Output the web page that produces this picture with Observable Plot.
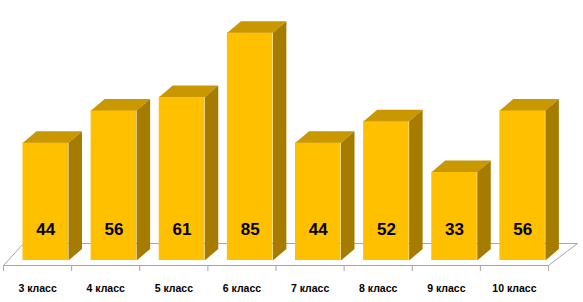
<!DOCTYPE html>
<html>
<head>
<meta charset="utf-8">
<script src="https://cdn.jsdelivr.net/npm/d3@7"></script>
<script src="https://cdn.jsdelivr.net/npm/@observablehq/plot@0.6"></script>
<style>
  html, body { margin: 0; padding: 0; background: #fff; }
</style>
</head>
<body>
<div id="chart"></div>
<script>
// Data
const categories = ["3 класс", "4 класс", "5 класс", "6 класс", "7 класс", "8 класс", "9 класс", "10 класс"];
const values = [44, 56, 61, 85, 44, 52, 33, 56];

const rows = categories.map((c, i) => ({i, c, v: values[i]}));

// scale geometry (pixels per unit), used to convert pixel offsets of the 3D look into data units
const W = 583, H = 302;
const xRange = [3, 548], yRange = [260, 32.3];
const yMax = 85;
const pxPerX = (xRange[1] - xRange[0]) / categories.length;
const pxPerY = (yRange[0] - yRange[1]) / yMax;
const ux = px => px / pxPerX;
const uy = px => px / pxPerY;

const fL = ux(19.5), fR = ux(65);      // front face within a band
const dX = ux(13.5), dY = uy(11.5);    // depth of the boxes

const topFaces = [], sideFaces = [];
rows.forEach(d => {
  const xl = d.i + fL, xr = d.i + fR;
  [[xl, d.v], [xr, d.v], [xr + dX, d.v + dY], [xl + dX, d.v + dY]].forEach(([x, y]) => topFaces.push({id: d.i, x, y}));
  [[xr, d.v], [xr + dX, d.v + dY], [xr + dX, dY], [xr, 0]].forEach(([x, y]) => sideFaces.push({id: d.i, x, y}));
});

const n = categories.length;
const floorFront = uy(-5), floorBack = uy(17);
const floorPts = [
  {x: 0, y: floorFront}, {x: ux(20), y: floorBack}, {x: n + ux(29), y: floorBack},
  {x: n, y: floorFront}, {x: 0, y: floorFront}
];

const chart = Plot.plot({
  width: W,
  height: H,
  marginTop: 0, marginBottom: 0, marginLeft: 0, marginRight: 0,
  style: {fontFamily: "'Liberation Sans', Arial, sans-serif", background: "#fff"},
  x: {type: "linear", domain: [0, n], range: xRange, axis: null},
  y: {type: "linear", domain: [0, yMax], range: yRange, axis: null},
  marks: [
    Plot.line(floorPts, {x: "x", y: "y", stroke: "#a6a6a6", strokeWidth: 1}),
    Plot.ruleX(d3.range(n + 1), {y1: () => floorFront, y2: () => floorFront - uy(6), stroke: "#a6a6a6", strokeWidth: 1}),
    Plot.rect(rows, {x1: d => d.i + fL, x2: d => d.i + fR, y1: () => 0, y2: "v", fill: "#FFC000", inset: 0}),
    Plot.line(topFaces, {x: "x", y: "y", z: "id", fill: "#C99700", stroke: "none"}),
    Plot.line(sideFaces, {x: "x", y: "y", z: "id", fill: "#A67C00", stroke: "none"}),
    Plot.text(rows, {x: d => d.i + (fL + fR) / 2, y: () => uy(31), text: d => String(d.v),
      fontSize: 17, fontWeight: "bold", fill: "#000"}),
    Plot.text(rows, {x: d => d.i + 0.5, y: () => uy(-28), text: "c",
      fontSize: 10.5, fontWeight: "bold", fill: "#000"})
  ]
});
document.getElementById("chart").appendChild(chart);
</script>
</body>
</html>
